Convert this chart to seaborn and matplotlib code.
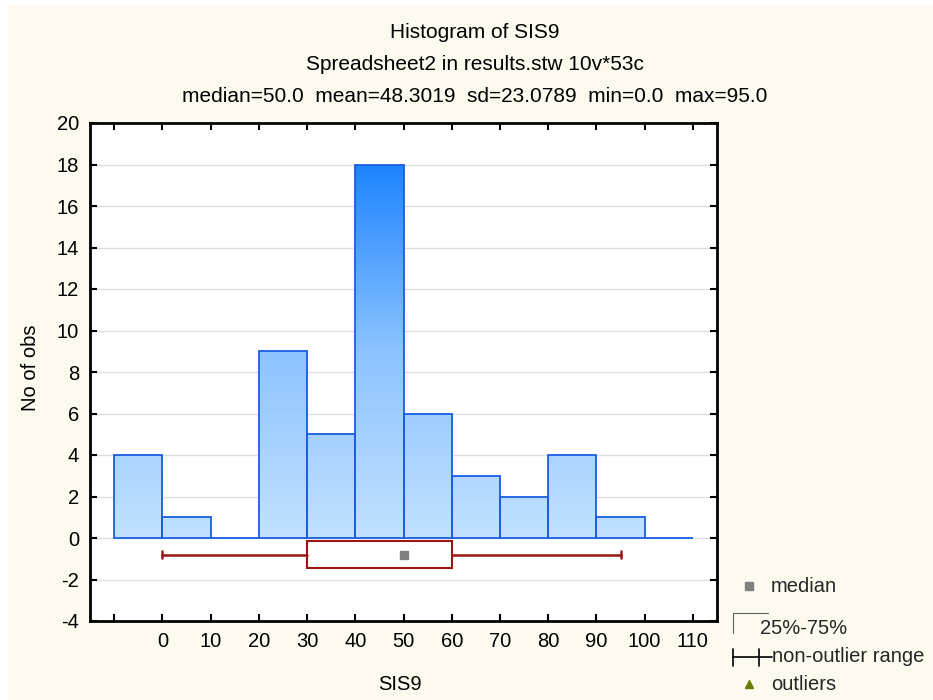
import numpy as np
import pandas as pd
import matplotlib
matplotlib.use('Agg')
import matplotlib.pyplot as plt
import seaborn as sns
from matplotlib.colors import LinearSegmentedColormap
from matplotlib.patches import Rectangle
from matplotlib.lines import Line2D

# ---------------- data ----------------
bin_edges = [-10, 0, 10, 20, 30, 40, 50, 60, 70, 80, 90, 100, 110]
counts = [4, 1, 0, 9, 5, 18, 6, 3, 2, 4, 1, 0]
box_q1, box_q3 = 30, 60
box_median = 50
whisker_lo, whisker_hi = 0, 95
x_ticks = [-10, 0, 10, 20, 30, 40, 50, 60, 70, 80, 90, 100, 110]
x_tick_labels = ['', '0', '10', '20', '30', '40', '50', '60', '70', '80', '90', '100', '110']
y_ticks = [-4, -2, 0, 2, 4, 6, 8, 10, 12, 14, 16, 18, 20]
y_tick_labels = ['-4', '-2', '0', '2', '4', '6', '8', '10', '12', '14', '16', '18', '20']
title_lines = ['Histogram of SIS9',
               'Spreadsheet2 in results.stw 10v*53c',
               'median=50.0  mean=48.3019  sd=23.0789  min=0.0  max=95.0']
legend_labels = ['median', '25%-75%', 'non-outlier range', 'outliers']

# ---------------- style ----------------
sns.set_theme(style='white')
plt.rcParams['font.family'] = ['Liberation Sans', 'DejaVu Sans']
plt.rcParams['axes.unicode_minus'] = False
FS = 14.5

W, H = 933, 700
fig = plt.figure(figsize=(W / 100, H / 100), dpi=100, facecolor='white')
fig.patches.append(Rectangle((8 / W, 0), 1, 1 - 5 / H, transform=fig.transFigure,
                             facecolor='#fdf9ee', edgecolor='none', zorder=-10))

ax_l, ax_r, ax_t, ax_b = 90, 717, 123, 621
ax = fig.add_axes([ax_l / W, 1 - ax_b / H, (ax_r - ax_l) / W, (ax_b - ax_t) / H])
ax.set_facecolor('white')

centers = [(a + b) / 2 for a, b in zip(bin_edges[:-1], bin_edges[1:])]
df = pd.DataFrame({'SIS9': centers, 'count': counts})
sns.histplot(data=df, x='SIS9', weights='count', bins=bin_edges, ax=ax,
             color='#4fa3ff', edgecolor='#1a5ee0', linewidth=1.3, alpha=1, zorder=3)

cmap = LinearSegmentedColormap.from_list('g', ['#c2e1ff', '#8cc3ff', '#1d84ff'])
grad = np.linspace(0, 1, 256).reshape(-1, 1)
ymax_count = max(counts)
for p in list(ax.patches):
    if p.get_height() > 0:
        im = ax.imshow(grad, cmap=cmap, origin='lower', aspect='auto',
                       extent=(-15, 115, 0, ymax_count), zorder=2.5, interpolation='bilinear')
        im.set_clip_path(p)
    p.set_facecolor('none')

# box plot
box_color = '#9c1515'
stats = [{'med': box_median, 'q1': box_q1, 'q3': box_q3, 'whislo': whisker_lo,
          'whishi': whisker_hi, 'mean': box_median, 'fliers': []}]
ax.bxp(stats, positions=[-0.8], widths=1.3, orientation='horizontal', patch_artist=True,
       showmeans=True, showfliers=False, capwidths=0.32,
       boxprops=dict(facecolor='white', edgecolor=box_color, linewidth=1.5),
       whiskerprops=dict(color=box_color, linewidth=1.8),
       capprops=dict(color=box_color, linewidth=1.8),
       medianprops=dict(linestyle='none'),
       meanprops=dict(marker='s', markerfacecolor='#808080', markeredgecolor='#808080', markersize=6),
       manage_ticks=False, zorder=4)

ax.set_xlim(-15, 115)
ax.set_ylim(-4, 20)
ax.set_xticks(x_ticks)
ax.set_xticklabels(x_tick_labels)
ax.set_yticks(y_ticks)
ax.set_yticklabels(y_tick_labels)
ax.yaxis.grid(True, color='#dddddd', linewidth=1, zorder=0)
ax.set_axisbelow(True)
ax.tick_params(axis='both', which='both', direction='in', length=5, width=1.5, color='black',
               top=True, right=True, bottom=True, left=True, labelsize=FS, pad=8,
               labelcolor='black')
for s in ax.spines.values():
    s.set_visible(True)
    s.set_color('black')
    s.set_linewidth(2)

ax.set_xlabel('SIS9', fontsize=FS, color='black')
ax.set_ylabel('No of obs', fontsize=FS, color='black')
ax.xaxis.set_label_coords((400 - ax_l) / (ax_r - ax_l), -(675 - ax_b) / (ax_b - ax_t))
ax.yaxis.set_label_coords(-(ax_l - 40) / (ax_r - ax_l), (ax_b - 368) / (ax_b - ax_t))

# titles
for line, yc in zip(title_lines, [32, 65, 97]):
    fig.text(475 / W, 1 - yc / H, line, ha='center', va='center', fontsize=15, color='black')

# legend (figure coordinates in pixels)
def fx(x):
    return x / W

def fy(y):
    return 1 - y / H

fig.add_artist(Line2D([fx(749)], [fy(586)], marker='s', markersize=6, color='#808080',
                      linestyle='none', transform=fig.transFigure))
fig.text(fx(771), fy(586), legend_labels[0], ha='left', va='center', fontsize=FS)

fig.add_artist(Line2D([fx(733), fx(733), fx(768)], [fy(633), fy(613), fy(613)],
                      color='#606060', linewidth=0.8, transform=fig.transFigure))
fig.text(fx(760), fy(628), legend_labels[1], ha='left', va='center', fontsize=FS)

fig.add_artist(Line2D([fx(733), fx(772)], [fy(657), fy(657)], color='black', linewidth=1.2,
                      transform=fig.transFigure))
for xx in (733, 759):
    fig.add_artist(Line2D([fx(xx), fx(xx)], [fy(649), fy(666)], color='black', linewidth=1.2,
                          transform=fig.transFigure))
fig.text(fx(772), fy(657), legend_labels[2], ha='left', va='center', fontsize=FS)

fig.add_artist(Line2D([fx(749)], [fy(684)], marker='^', markersize=6, color='#6b7a00',
                      linestyle='none', transform=fig.transFigure))
fig.text(fx(771), fy(684), legend_labels[3], ha='left', va='center', fontsize=FS)

fig.savefig('out.png', dpi=100, facecolor=fig.get_facecolor())
